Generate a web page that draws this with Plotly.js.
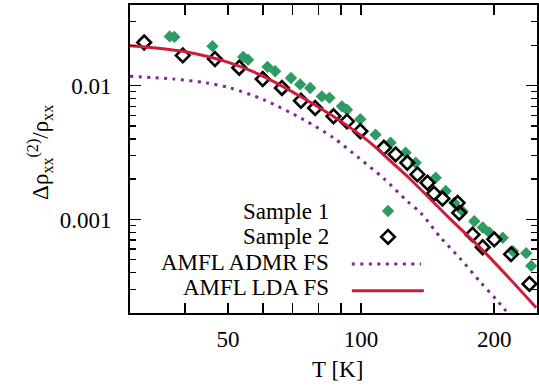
<!DOCTYPE html>
<html>
<head>
<meta charset="utf-8">
<script src="https://cdn.plot.ly/plotly-3.0.1.min.js"></script>
<style>html,body{margin:0;padding:0;background:#fff;}</style>
</head>
<body>
<div id="chart" style="width:539px;height:388px;"></div>
<script>
// Sample 1 (green filled diamonds)
const s1T = [36.9, 37.8, 46.1, 54.1, 55.5, 61.4, 63.9, 69.4, 72.8, 76.7, 81.5, 84.8, 90.5, 92.9, 99.6, 107.8, 116.6, 126.1, 132.9, 147.5, 155.4, 162.4, 169.6, 180.3, 188.4, 195.0, 209.2, 220.4, 236.3, 242.6];
const s1V = [0.0233, 0.0231, 0.0197, 0.0164, 0.0156, 0.0138, 0.0128, 0.0114, 0.0102, 0.0096, 0.0083, 0.0081, 0.0070, 0.0066, 0.0056, 0.0043, 0.00374, 0.00315, 0.00265, 0.00205, 0.00163, 0.00133, 0.00115, 0.00097, 0.00087, 0.00080, 0.00073, 0.00058, 0.00056, 0.00045];
// Sample 2 (black open diamonds)
const s2T = [32.3, 39.5, 46.7, 53.0, 59.9, 66.2, 73.1, 78.7, 86.6, 92.9, 99.6, 112.6, 119.7, 127.2, 134.1, 141.3, 146.2, 152.8, 165.3, 166.7, 178.7, 188.4, 200.1, 218.5, 240.4];
const s2V = [0.0210, 0.0168, 0.0158, 0.0136, 0.0112, 0.0096, 0.0077, 0.0068, 0.0059, 0.0054, 0.00456, 0.00343, 0.00306, 0.00265, 0.00217, 0.00188, 0.00156, 0.00143, 0.00133, 0.00112, 0.00077, 0.00062, 0.00071, 0.00055, 0.00033];
// AMFL ADMR FS (purple dotted)
const admrT = [30, 37.5, 44.7, 50.5, 60.1, 74.1, 86.6, 98.7, 112.6, 127.2, 136.4, 151.4, 168.2, 186.6, 202.0, 212.8];
const admrV = [0.01173, 0.01122, 0.01047, 0.00961, 0.00786, 0.00557, 0.00407, 0.00289, 0.00202, 0.00137, 0.00112, 0.00073, 0.000503, 0.000337, 0.000253, 0.000207];
// AMFL LDA FS (red solid)
const ldaT = [30, 39.5, 50.5, 60.1, 72.8, 85.2, 94.6, 105.0, 116.6, 129.4, 143.7, 156.9, 193.4, 249.0];
const ldaV = [0.01988, 0.01803, 0.01477, 0.01173, 0.00832, 0.00608, 0.00483, 0.003735, 0.002723, 0.001989, 0.00141, 0.001053, 0.000539, 0.000219];

const xTickVals = [50, 100, 200];
const xTickText = ['50', '100', '200'];
const xMinorVals = [40, 60, 70, 80, 90];
const yTickVals = [0.001, 0.01];
const yTickText = ['0.001', '0.01'];
const yMinorVals = [0.0002,0.0003,0.0004,0.0005,0.0006,0.0007,0.0008,0.0009,
                    0.002,0.003,0.004,0.005,0.006,0.007,0.008,0.009,0.02,0.03,0.04];
const legendNames = ['Sample 1', 'Sample 2', 'AMFL ADMR FS', 'AMFL LDA FS'];

const GREEN = '#2e9b63', PURPLE = '#7b2a8c', RED = '#d01c3a';
const FONT = 'Liberation Serif';

const traces = [
  {x: s1T, y: s1V, mode: 'markers', type: 'scatter',
   marker: {symbol: 'diamond', size: 9.5, color: GREEN, line: {width: 0}}},
  {x: s2T, y: s2V, mode: 'markers', type: 'scatter',
   marker: {symbol: 'diamond-open', size: 10.5, color: '#000', line: {width: 2.6, color: '#000'}}},
  {x: admrT, y: admrV, mode: 'lines', type: 'scatter',
   line: {color: PURPLE, width: 3, dash: '3px,5.5px', shape: 'spline', smoothing: 0.8}},
  {x: ldaT, y: ldaV, mode: 'lines', type: 'scatter',
   line: {color: RED, width: 3, shape: 'spline', smoothing: 0.8}},
  // legend keys on an overlay (0..1) axis pair
  {x: [0.634], y: [0.331], xaxis: 'x2', yaxis: 'y2', mode: 'markers', type: 'scatter',
   marker: {symbol: 'diamond', size: 9.5, color: GREEN}},
  {x: [0.634], y: [0.247], xaxis: 'x2', yaxis: 'y2', mode: 'markers', type: 'scatter',
   marker: {symbol: 'diamond-open', size: 10.5, color: '#000', line: {width: 2.6, color: '#000'}}},
  {x: [0.545, 0.715], y: [0.159, 0.159], xaxis: 'x2', yaxis: 'y2', mode: 'lines', type: 'scatter',
   line: {color: PURPLE, width: 3, dash: '3px,5.5px'}},
  {x: [0.545, 0.722], y: [0.0724, 0.0724], xaxis: 'x2', yaxis: 'y2', mode: 'lines', type: 'scatter',
   line: {color: RED, width: 3}}
];

const legendY = [0.331, 0.247, 0.163, 0.083];
const annotations = legendNames.map((t, i) => ({
  text: t, xref: 'paper', yref: 'paper', x: 0.493, y: legendY[i],
  xanchor: 'right', yanchor: 'middle', showarrow: false,
  font: {family: FONT, size: 23, color: '#000'}
}));
annotations.push({
  text: 'Δρ<sub>xx</sub><sup>(2)</sup>/ρ<sub>xx</sub>', textangle: -90,
  xref: 'paper', yref: 'paper', x: -0.221, y: 0.52, xanchor: 'center', yanchor: 'middle',
  showarrow: false, font: {family: FONT, size: 23, color: '#000'}
});
annotations.push({
  text: 'T [K]', xref: 'paper', yref: 'paper', x: 0.509, y: -0.185,
  xanchor: 'center', yanchor: 'middle', showarrow: false,
  font: {family: FONT, size: 23, color: '#000'}
});

const layout = {
  width: 539, height: 388,
  margin: {l: 130, r: 2, t: 5, b: 75, pad: 0},
  paper_bgcolor: '#fff', plot_bgcolor: '#fff',
  showlegend: false,
  font: {family: FONT, size: 23, color: '#000'},
  xaxis: {
    type: 'log', range: [Math.log10(30), Math.log10(250)],
    tickmode: 'array', tickvals: xTickVals, ticktext: xTickText,
    ticks: 'inside', ticklen: 10, tickwidth: 1.5, tickcolor: '#000',
    minor: {tickmode: 'array', tickvals: xMinorVals, ticks: 'inside', ticklen: 10, tickwidth: 1.5, tickcolor: '#000', showgrid: false},
    showline: true, linewidth: 2, linecolor: '#000', mirror: 'ticks',
    showgrid: false, zeroline: false, ticklabelstandoff: 4,
    tickfont: {family: FONT, size: 23, color: '#000'}
  },
  yaxis: {
    type: 'log', range: [Math.log10(0.0002), Math.log10(0.04)],
    tickmode: 'array', tickvals: yTickVals, ticktext: yTickText,
    ticks: 'inside', ticklen: 11, tickwidth: 1.5, tickcolor: '#000',
    minor: {tickmode: 'array', tickvals: yMinorVals, ticks: 'inside', ticklen: 6, tickwidth: 1.5, tickcolor: '#000', showgrid: false},
    showline: true, linewidth: 2, linecolor: '#000', mirror: 'ticks',
    showgrid: false, zeroline: false, ticklabelstandoff: 12,
    tickfont: {family: FONT, size: 23, color: '#000'}
  },
  xaxis2: {overlaying: 'x', range: [0, 1], visible: false, fixedrange: true},
  yaxis2: {overlaying: 'y', range: [0, 1], visible: false, fixedrange: true},
  annotations: annotations
};

Plotly.newPlot('chart', traces, layout, {staticPlot: true, displayModeBar: false});
</script>
</body>
</html>
